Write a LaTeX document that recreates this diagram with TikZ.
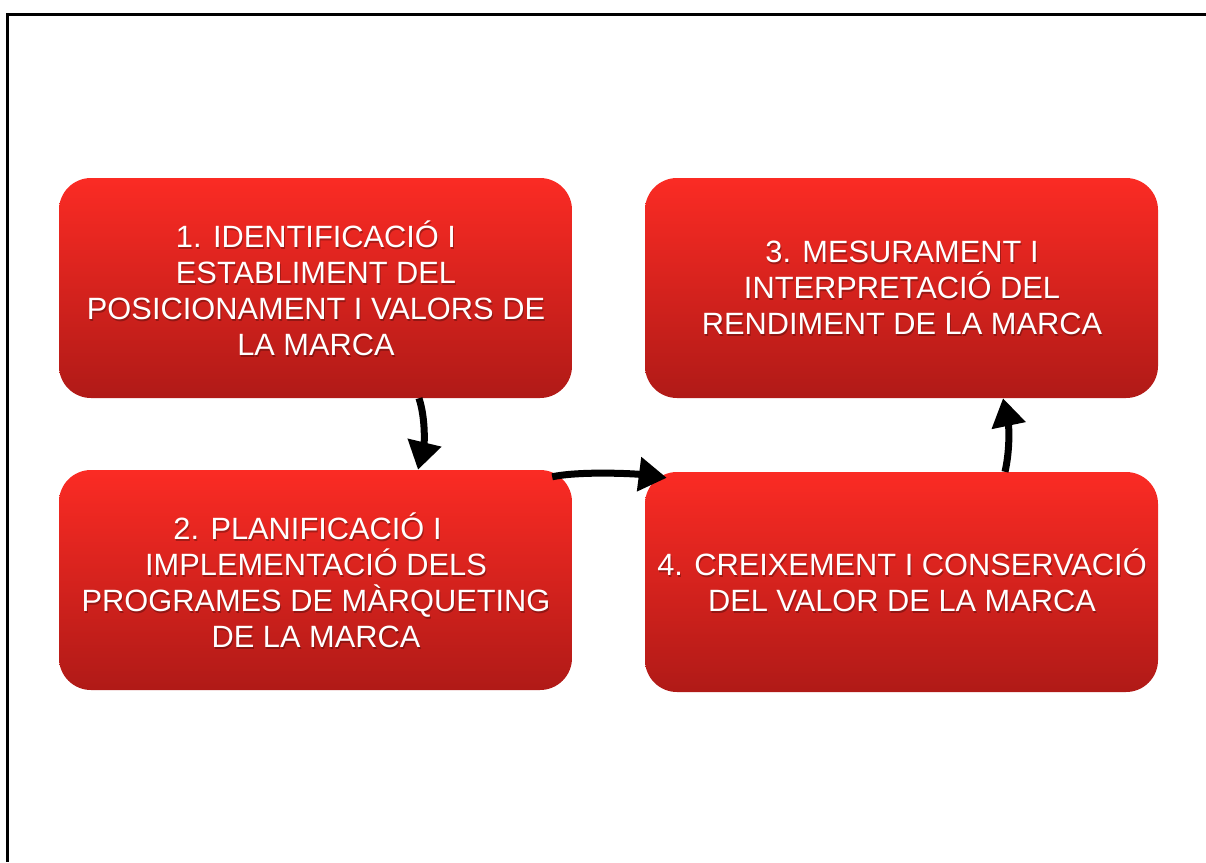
\documentclass[tikz,border=0pt]{standalone}
\usepackage{fontspec}
\setmainfont{Liberation Sans}
\usetikzlibrary{arrows.meta}
\definecolor{boxtop}{RGB}{251,43,36}
\definecolor{boxbot}{RGB}{176,26,23}
\begin{document}
\begin{tikzpicture}[x=1pt,y=-1pt,
  box/.style={rectangle, rounded corners=32pt, minimum width=513pt, minimum height=220pt,
    top color=boxtop, bottom color=boxbot, inner sep=0pt, draw=none},
  lbl/.style={text=white, align=center, inner sep=0pt, font=\fontsize{30.8}{36}\selectfont},
  lblsh/.style={lbl, text=black, opacity=0.28},
  arr/.style={line width=7pt, -{Triangle[length=28pt,width=33pt]}}]
\useasboundingbox (0,0) rectangle (1206,862);
\draw[line width=2.5pt] (1206,14.5) -- (7.5,14.5) -- (7.5,862);
% boxes
\node[box] (b1) at (315.5,288) {};
\node[box] (b2) at (315.5,580) {};
\node[box] (b3) at (901.5,288) {};
\node[box] (b4) at (901.5,582) {};
% text shadows
\node[lblsh] (s1) at ([shift={(1.5,2.5)}]b1.center) {1. IDENTIFICACIÓ I\\ESTABLIMENT DEL\\POSICIONAMENT I VALORS DE\\LA MARCA};
\node[lblsh] (s2) at ([shift={(1.5,2.5)}]b2.center) {2. PLANIFICACIÓ I\hspace*{17pt}\\IMPLEMENTACIÓ DELS\\PROGRAMES DE MÀRQUETING\\DE LA MARCA};
\node[lblsh] (s3) at ([shift={(1.5,1.5)}]b3.center) {3. MESURAMENT I\\INTERPRETACIÓ DEL\\RENDIMENT DE LA MARCA};
\node[lblsh] (s4) at ([shift={(1.5,0.5)}]b4.center) {4. CREIXEMENT I CONSERVACIÓ\\DEL VALOR DE LA MARCA};
% texts
\node[lbl] (t1) at ([shift={(0.5,0.5)}]b1.center) {1. IDENTIFICACIÓ I\\ESTABLIMENT DEL\\POSICIONAMENT I VALORS DE\\LA MARCA};
\node[lbl] (t2) at ([shift={(0.5,0.5)}]b2.center) {2. PLANIFICACIÓ I\hspace*{17pt}\\IMPLEMENTACIÓ DELS\\PROGRAMES DE MÀRQUETING\\DE LA MARCA};
\node[lbl] (t3) at ([shift={(0.5,-0.5)}]b3.center) {3. MESURAMENT I\\INTERPRETACIÓ DEL\\RENDIMENT DE LA MARCA};
\node[lbl] (t4) at ([shift={(0.5,-1.5)}]b4.center) {4. CREIXEMENT I CONSERVACIÓ\\DEL VALOR DE LA MARCA};
% connectors
\coordinate (a1s) at ([xshift=103.5pt]b1.south);
\coordinate (a1e) at ([xshift=102.5pt]b2.north);
\draw[arr] (a1s) .. controls ([shift={(7,22)}]a1s) and ([shift={(6,-25)}]a1e) .. (a1e);
\coordinate (a2s) at ([shift={(-20,7)}]b2.north east);
\coordinate (a2e) at ([shift={(22,6)}]b4.north west);
\draw[arr] (a2s) .. controls ([shift={(28,-6)}]a2s) and ([shift={(-31,-4)}]a2e) .. (a2e);
\coordinate (a3s) at ([xshift=103.5pt]b4.north);
\coordinate (a3e) at ([xshift=101.5pt]b3.south);
\draw[arr] (a3s) .. controls ([shift={(5,-22)}]a3s) and ([shift={(6,29)}]a3e) .. (a3e);
\end{tikzpicture}
\end{document}
